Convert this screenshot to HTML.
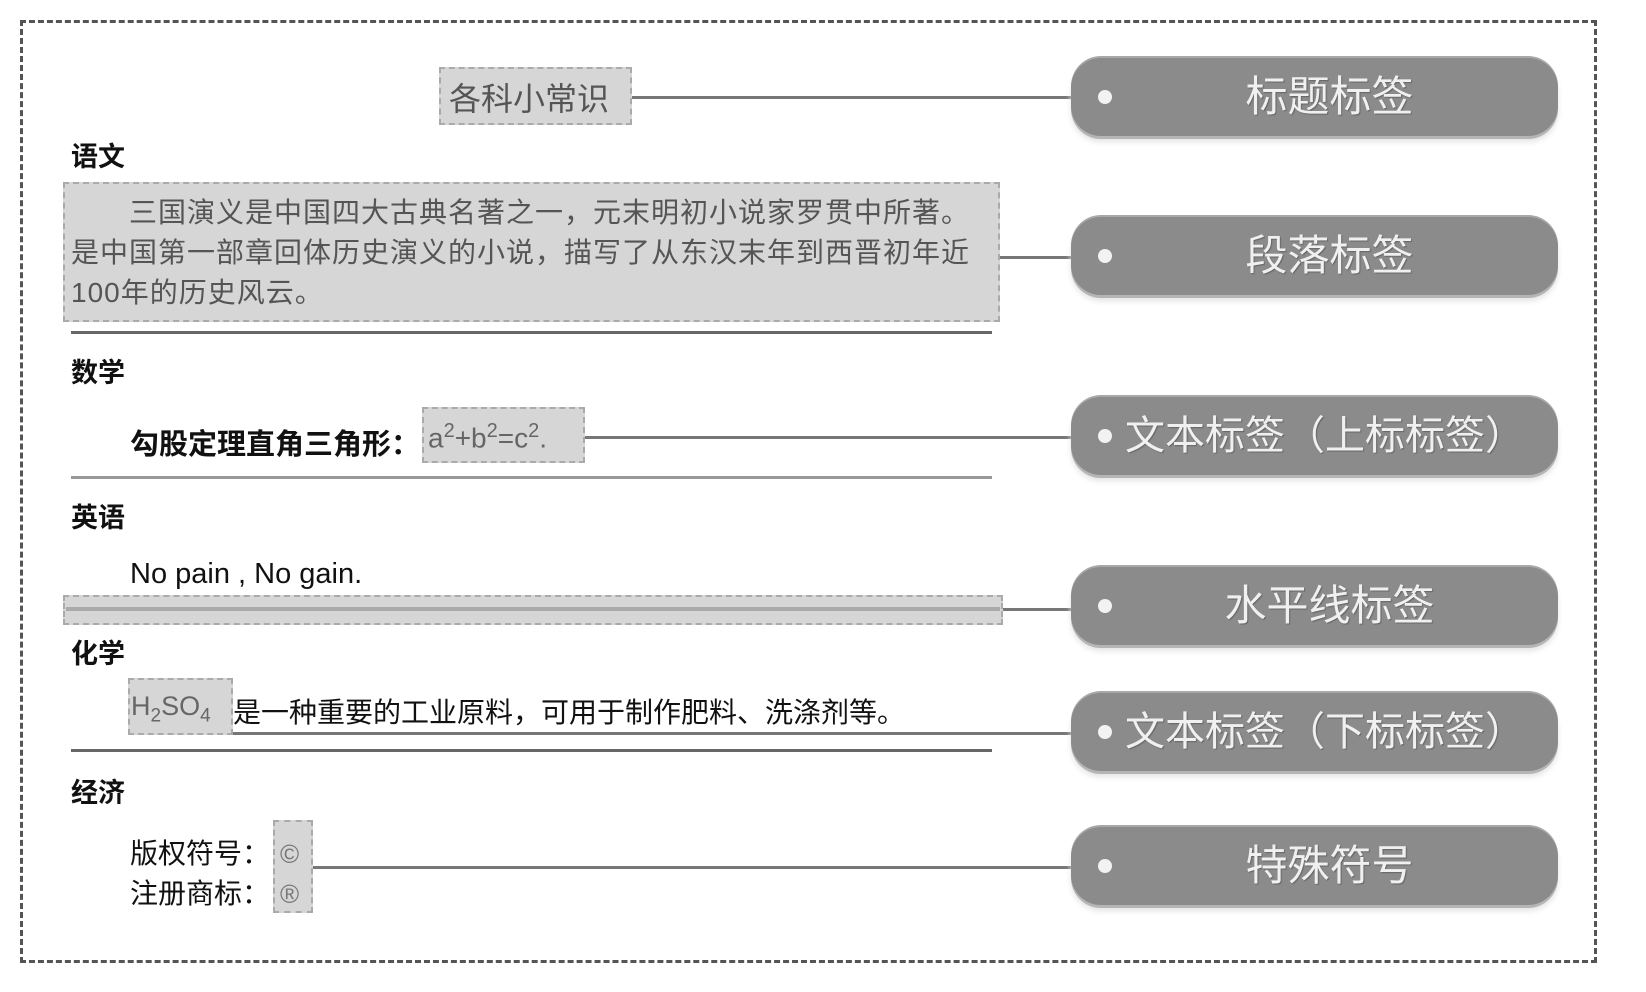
<!DOCTYPE html>
<html><head><meta charset="utf-8"><style>
body{margin:0;width:1646px;height:992px;background:#fff;position:relative;overflow:hidden;font-family:"Liberation Sans","Noto Sans CJK SC",sans-serif;}
.a{position:absolute;}
.frame{left:20px;top:20px;width:1577px;height:943px;border:3px dashed #555;box-sizing:border-box;}
.pill{position:absolute;left:1071px;width:487px;height:78px;background:#8b8b8b;border-radius:30px;box-shadow:0 3px 0 #b5b5b5,0 -2px 0 #a8a8a8,0 6px 6px #e4e4e4;}
.pill .dot{position:absolute;left:27px;top:32px;width:14px;height:14px;border-radius:50%;background:#f2f2f2;}
.pill .t{position:absolute;left:40px;right:10px;top:0;line-height:78px;text-align:center;color:#f0f0f0;font-size:42px;text-shadow:1px 1px 1px #666;white-space:nowrap;}
.pill .t.l{left:54px;right:0;font-size:40px;text-align:left;}
.ln{position:absolute;height:3px;background:#777;}
.h{position:absolute;left:71px;font-size:27px;font-weight:bold;color:#111;}
.box{position:absolute;background:#d6d6d6;border:2px dashed #aaa;box-sizing:border-box;}
.sep{position:absolute;left:71px;width:921px;height:3px;background:#666;}
</style></head><body>
<div class="a frame"></div>

<div class="box" style="left:439px;top:67px;width:193px;height:58px;"></div>
<div class="a" style="left:449px;top:74px;font-size:32px;color:#555;">各科小常识</div>
<div class="ln" style="left:632px;top:96px;width:440px;"></div>
<div class="pill" style="top:58px;"><div class="dot"></div><div class="t">标题标签</div></div>

<div class="h" style="top:135px;">语文</div>
<div class="box" style="left:63px;top:182px;width:937px;height:140px;"></div>
<div class="a" style="left:71px;top:193px;width:925px;font-size:28px;line-height:40px;color:#555;letter-spacing:1px;text-indent:58px;">三国演义是中国四大古典名著之一，元末明初小说家罗贯中所著。是中国第一部章回体历史演义的小说，描写了从东汉末年到西晋初年近100年的历史风云。</div>
<div class="ln" style="left:1000px;top:256px;width:72px;"></div>
<div class="pill" style="top:217px;"><div class="dot"></div><div class="t">段落标签</div></div>
<div class="sep" style="top:331px;"></div>

<div class="h" style="top:351px;">数学</div>
<div class="a" style="left:130px;top:421px;font-size:29px;font-weight:bold;color:#111;">勾股定理直角三角形：</div>
<div class="box" style="left:422px;top:407px;width:163px;height:56px;"></div>
<div class="a" style="left:428px;top:420px;font-size:28px;color:#666;">a<sup style="font-size:20px">2</sup>+b<sup style="font-size:20px">2</sup>=c<sup style="font-size:20px">2</sup>.</div>
<div class="ln" style="left:585px;top:436px;width:487px;"></div>
<div class="pill" style="top:397px;"><div class="dot"></div><div class="t l">文本标签（上标标签）</div></div>
<div class="sep" style="top:476px;background:#999;"></div>

<div class="h" style="top:496px;">英语</div>
<div class="a" style="left:130px;top:558px;font-size:29px;color:#111;">No pain , No gain.</div>
<div class="box" style="left:63px;top:595px;width:940px;height:30px;"></div>
<div class="a" style="left:66px;top:607px;width:934px;height:4px;background:#aaa;"></div>
<div class="ln" style="left:1003px;top:608px;width:69px;"></div>
<div class="pill" style="top:567px;"><div class="dot"></div><div class="t">水平线标签</div></div>

<div class="h" style="top:632px;">化学</div>
<div class="box" style="left:128px;top:678px;width:105px;height:57px;"></div>
<div class="a" style="left:131px;top:691px;font-size:27px;color:#666;">H<sub style="font-size:19px">2</sub>SO<sub style="font-size:19px">4</sub></div>
<div class="a" style="left:233px;top:691px;font-size:28px;color:#111;">是一种重要的工业原料，可用于制作肥料、洗涤剂等。</div>
<div class="ln" style="left:233px;top:732px;width:839px;"></div>
<div class="pill" style="top:693px;"><div class="dot"></div><div class="t l">文本标签（下标标签）</div></div>
<div class="sep" style="top:749px;"></div>

<div class="h" style="top:771px;">经济</div>
<div class="a" style="left:130px;top:834px;font-size:28px;color:#111;line-height:40px;">版权符号：<br>注册商标：</div>
<div class="box" style="left:273px;top:820px;width:40px;height:93px;"></div>
<div class="a" style="left:280px;top:834px;font-size:26px;color:#777;line-height:40px;">©<br>®</div>
<div class="ln" style="left:313px;top:866px;width:759px;"></div>
<div class="pill" style="top:827px;"><div class="dot"></div><div class="t">特殊符号</div></div>
</body></html>
